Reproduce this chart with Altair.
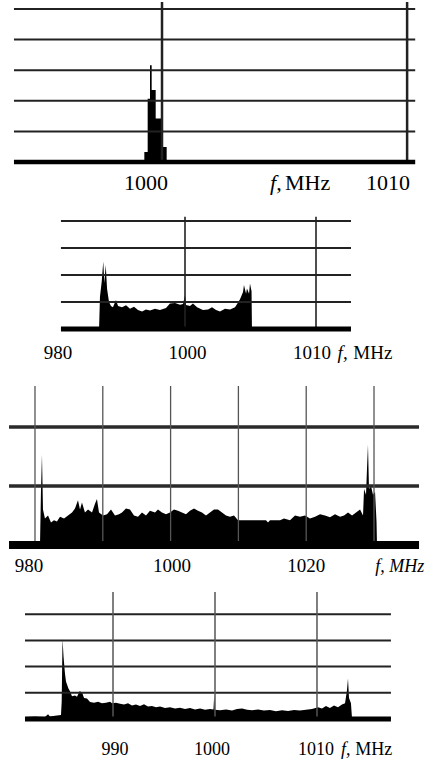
import altair as alt
import pandas as pd

FONT = "Liberation Serif, Times New Roman, serif"

# ---------------- Panel 1 (narrow carrier) ----------------
p1_freq = [999.20, 999.279, 999.415, 999.510, 999.578, 999.742, 999.986, 1000.190]
p1_level = [0, 0.33, 2.07, 3.16, 2.35, 1.42, 0.49, 0]
p1_grid_f = [1000, 1010]
p1_grid_h = [1, 2, 3, 4, 5]
p1_lab_f = [999.35, 1009.22]
p1_lab_t = ["1000", "1010"]

# ---------------- Panel 2 ----------------
p2_freq = [993.44, 993.51, 993.64, 993.76, 993.84, 993.95, 994.05, 994.20, 994.35, 994.50,
           994.73, 994.89, 995.19, 995.50, 995.80, 996.11, 996.41, 996.72, 997.02, 997.33,
           997.71, 998.09, 998.55, 998.85, 999.24, 999.62, 999.85, 1000.00, 1000.08, 1000.38,
           1000.61, 1000.92, 1001.37, 1001.76, 1002.06, 1002.37, 1002.67, 1003.05, 1003.44, 1003.82,
           1004.20, 1004.43, 1004.50, 1004.66, 1004.73, 1004.89, 1004.96, 1005.08, 1005.11]
p2_level = [0, 1.2, 1.74, 2.5, 1.7, 2.37, 1.49, 1.0, 0.85, 0.8,
            1.07, 0.85, 0.8, 0.88, 0.75, 0.82, 0.7, 0.65, 0.72, 0.68,
            0.75, 0.7, 0.78, 0.94, 0.96, 0.9, 0.92, 1.26, 0.89, 0.85,
            0.94, 0.8, 0.7, 0.72, 0.8, 0.7, 0.65, 0.75, 0.72, 0.8,
            1.1, 1.37, 1.63, 1.3, 1.5, 1.3, 1.68, 1.4, 0]
p2_grid_f = [1000, 1010]
p2_grid_h = [1, 2, 3, 4]
p2_lab_f = [990.3, 1000.2, 1009.7]
p2_lab_t = ["980", "1000", "1010"]

# ---------------- Panel 3 ----------------
p3_freq = [980.74, 980.88, 981.03, 981.18, 981.47, 981.92, 982.36, 982.80, 983.24, 983.69,
           984.28, 984.87, 985.46, 985.90, 986.34, 986.64, 986.93, 987.37, 987.82, 988.41,
           988.85, 989.14, 989.44, 990.03, 990.62, 991.21, 991.80, 992.39, 992.83, 993.42,
           994.01, 994.60, 995.19, 995.78, 996.37, 996.96, 997.70, 998.14, 998.73, 999.32,
           999.91, 1000.50, 1001.09, 1001.68, 1002.27, 1002.86, 1003.45, 1004.04, 1004.63, 1005.22,
           1005.81, 1006.40, 1006.99, 1007.58, 1008.17, 1008.76, 1009.35, 1009.94, 1011.71, 1014.07,
           1014.37, 1014.66, 1016.14, 1016.73, 1017.61, 1018.35, 1019.09, 1019.82, 1020.56, 1021.30,
           1022.04, 1022.77, 1023.51, 1024.25, 1024.99, 1025.58, 1026.17, 1026.76, 1027.35, 1027.94,
           1028.38, 1028.53, 1028.82, 1028.97, 1029.11, 1029.26, 1029.56, 1029.85, 1030.15, 1030.37, 1030.44]
p3_level = [0, 0.9, 1.53, 0.6, 0.45, 0.5, 0.38, 0.42, 0.4, 0.48,
            0.45, 0.5, 0.55, 0.62, 0.76, 0.6, 0.72, 0.55, 0.6, 0.55,
            0.7, 0.78, 0.55, 0.5, 0.52, 0.6, 0.5, 0.52, 0.55, 0.62,
            0.6, 0.5, 0.48, 0.55, 0.5, 0.58, 0.55, 0.6, 0.55, 0.52,
            0.55, 0.6, 0.58, 0.55, 0.52, 0.58, 0.62, 0.58, 0.55, 0.5,
            0.55, 0.6, 0.6, 0.55, 0.5, 0.48, 0.5, 0.42, 0.42, 0.42,
            0.38, 0.42, 0.42, 0.45, 0.42, 0.5, 0.48, 0.5, 0.45, 0.48,
            0.52, 0.5, 0.47, 0.52, 0.48, 0.5, 0.55, 0.5, 0.55, 0.6,
            0.5, 0.95, 0.85, 1.3, 1.7, 0.95, 1.0, 0.85, 0.9, 0.4, 0]
p3_grid_f = [980, 990, 1000, 1010, 1020, 1030]
p3_grid_h = [1, 2]
p3_lab_f = [979.1, 1000.2, 1020.0]
p3_lab_t = ["980", "1000", "1020"]

# ---------------- Panel 4 ----------------
p4_freq = [981.37, 982.35, 983.33, 983.63, 983.82, 984.31, 984.90, 984.97, 985.05, 985.15,
           985.29, 985.39, 985.62, 985.78, 985.98, 986.27, 986.47, 986.72, 986.96, 987.16,
           987.45, 987.75, 988.14, 988.53, 988.92, 989.31, 989.71, 989.90, 990.29, 990.69,
           991.08, 991.47, 991.86, 992.25, 992.65, 993.04, 993.43, 993.82, 994.22, 994.61,
           995.10, 995.59, 996.08, 996.57, 997.06, 997.55, 998.04, 998.53, 999.02, 999.51,
           999.85, 999.92, 999.99, 1000.49, 1001.08, 1001.67, 1002.16, 1002.65, 1003.14, 1003.63,
           1004.22, 1004.80, 1005.39, 1005.98, 1006.57, 1007.16, 1007.75, 1008.33, 1008.92, 1009.51,
           1010.10, 1010.49, 1010.88, 1011.27, 1011.67, 1012.06, 1012.45, 1012.75, 1012.94, 1013.04,
           1013.14, 1013.33, 1013.43, 1014.22, 1017.25]
p4_level = [0.08, 0.1, 0.08, 0.18, 0.1, 0.12, 0.15, 0.68, 3.06, 2.38,
            1.74, 1.43, 1.17, 1.06, 0.87, 0.9, 0.85, 1.06, 1.02, 0.8,
            0.78, 0.65, 0.62, 0.66, 0.6, 0.62, 0.66, 0.6, 0.62, 0.58,
            0.55, 0.6, 0.52, 0.55, 0.5, 0.56, 0.48, 0.5, 0.45, 0.48,
            0.42, 0.45, 0.4, 0.43, 0.38, 0.42, 0.36, 0.4, 0.35, 0.38,
            0.36, 0.9, 0.35, 0.33, 0.36, 0.32, 0.38, 0.4, 0.35, 0.33,
            0.36, 0.32, 0.34, 0.3, 0.33, 0.31, 0.34, 0.32, 0.35, 0.38,
            0.45, 0.4, 0.5, 0.42, 0.52, 0.45, 0.55, 0.6, 1.1, 1.55,
            0.8, 0.6, 0.05, 0.05, 0.05]
p4_grid_f = [990, 1000, 1010]
p4_grid_h = [1, 2, 3, 4]
p4_lab_f = [990.2, 999.7, 1009.9]
p4_lab_t = ["990", "1000", "1010"]


def panel(freq, level, interp, xdom, ydom, w, h, span, top,
          hlev, hw, hc, vfreq, vw, vc, bw,
          lab_f, lab_t, lab_y, fs, units):
    xs = alt.Scale(domain=xdom, nice=False, zero=False)
    ys = alt.Scale(domain=ydom, nice=False, zero=False)
    spec = pd.DataFrame({"f": freq, "h": level})
    area = alt.Chart(spec).mark_area(color="black", interpolate=interp, opacity=1).encode(
        x=alt.X("f:Q", scale=xs, axis=None),
        y=alt.Y("h:Q", scale=ys, axis=None),
        y2=alt.datum(0),
    )
    hdf = pd.DataFrame({"h": hlev, "a": [span[0]] * len(hlev), "b": [span[1]] * len(hlev)})
    hgrid = alt.Chart(hdf).mark_rule(color=hc, strokeWidth=hw).encode(
        x=alt.X("a:Q", scale=xs, axis=None), x2="b:Q",
        y=alt.Y("h:Q", scale=ys, axis=None),
    )
    vdf = pd.DataFrame({"f": vfreq, "lo": [0] * len(vfreq), "hi": [top] * len(vfreq)})
    vgrid = alt.Chart(vdf).mark_rule(color=vc, strokeWidth=vw).encode(
        x=alt.X("f:Q", scale=xs, axis=None),
        y=alt.Y("lo:Q", scale=ys, axis=None), y2="hi:Q",
    )
    bdf = pd.DataFrame({"h": [0], "a": [span[0]], "b": [span[1]]})
    base = alt.Chart(bdf).mark_rule(color="black", strokeWidth=bw).encode(
        x=alt.X("a:Q", scale=xs, axis=None), x2="b:Q",
        y=alt.Y("h:Q", scale=ys, axis=None),
    )
    ldf = pd.DataFrame({"f": lab_f, "t": lab_t, "y": [lab_y] * len(lab_f)})
    labels = alt.Chart(ldf).mark_text(font=FONT, fontSize=fs, align="center",
                                      baseline="alphabetic", color="black").encode(
        x=alt.X("f:Q", scale=xs, axis=None),
        y=alt.Y("y:Q", scale=ys, axis=None),
        text="t:N",
    )
    layers = [area, hgrid, vgrid, base, labels]
    for uf, ut, style, ufs in units:
        udf = pd.DataFrame({"f": [uf], "t": [ut], "y": [lab_y]})
        layers.append(
            alt.Chart(udf).mark_text(font=FONT, fontSize=ufs, align="left",
                                     baseline="alphabetic", fontStyle=style,
                                     color="black").encode(
                x=alt.X("f:Q", scale=xs, axis=None),
                y=alt.Y("y:Q", scale=ys, axis=None),
                text="t:N",
            )
        )
    return alt.layer(*layers).properties(width=w, height=h)


p1 = panel(p1_freq, p1_level, "step-after",
           [993.39, 1010.73], [-1.307, 5.229], 425, 200,
           [993.96, 1010.33], 5.229,
           p1_grid_h, 2, "#222", p1_grid_f, 2.5, "#222", 4.5,
           p1_lab_f, p1_lab_t, -0.92, 22,
           [(1004.41, "f,", "italic", 22), (1005.02, "MHz", "normal", 22)])

p2 = panel(p2_freq, p2_level, "linear",
           [985.878, 1018.32], [-1.593, 4.70], 425, 170,
           [990.53, 1012.67], 4.15,
           p2_grid_h, 2, "#222", p2_grid_f, 1.6, "#222", 5,
           p2_lab_f, p2_lab_t, -1.11, 19,
           [(1011.65, "f,", "italic", 19), (1012.85, "MHz", "normal", 19)])

p3 = panel(p3_freq, p3_level, "linear",
           [974.84, 1037.52], [-0.542, 2.932], 425, 205,
           [976.17, 1036.64], 2.695,
           p3_grid_h, 3.5, "#2a2a2a", p3_grid_f, 1.3, "#555", 8,
           p3_lab_f, p3_lab_t, -0.458, 19,
           [(1030.2, "f, MHz", "italic", 18)])

p4 = panel(p4_freq, p4_level, "linear",
           [978.92, 1020.59], [-1.641, 5.420], 425, 185,
           [981.37, 1017.25], 4.847,
           p4_grid_h, 2, "#222", p4_grid_f, 1.5, "#555", 5,
           p4_lab_f, p4_lab_t, -1.374, 18,
           [(1012.35, "f,", "italic", 18), (1013.75, "MHz", "normal", 18)])

chart = alt.vconcat(p1, p2, p3, p4, spacing=0, bounds="flush").properties(
    padding=0
).configure_view(stroke=None)

chart.save("out.html", embed_options={"renderer": "svg", "actions": False})
